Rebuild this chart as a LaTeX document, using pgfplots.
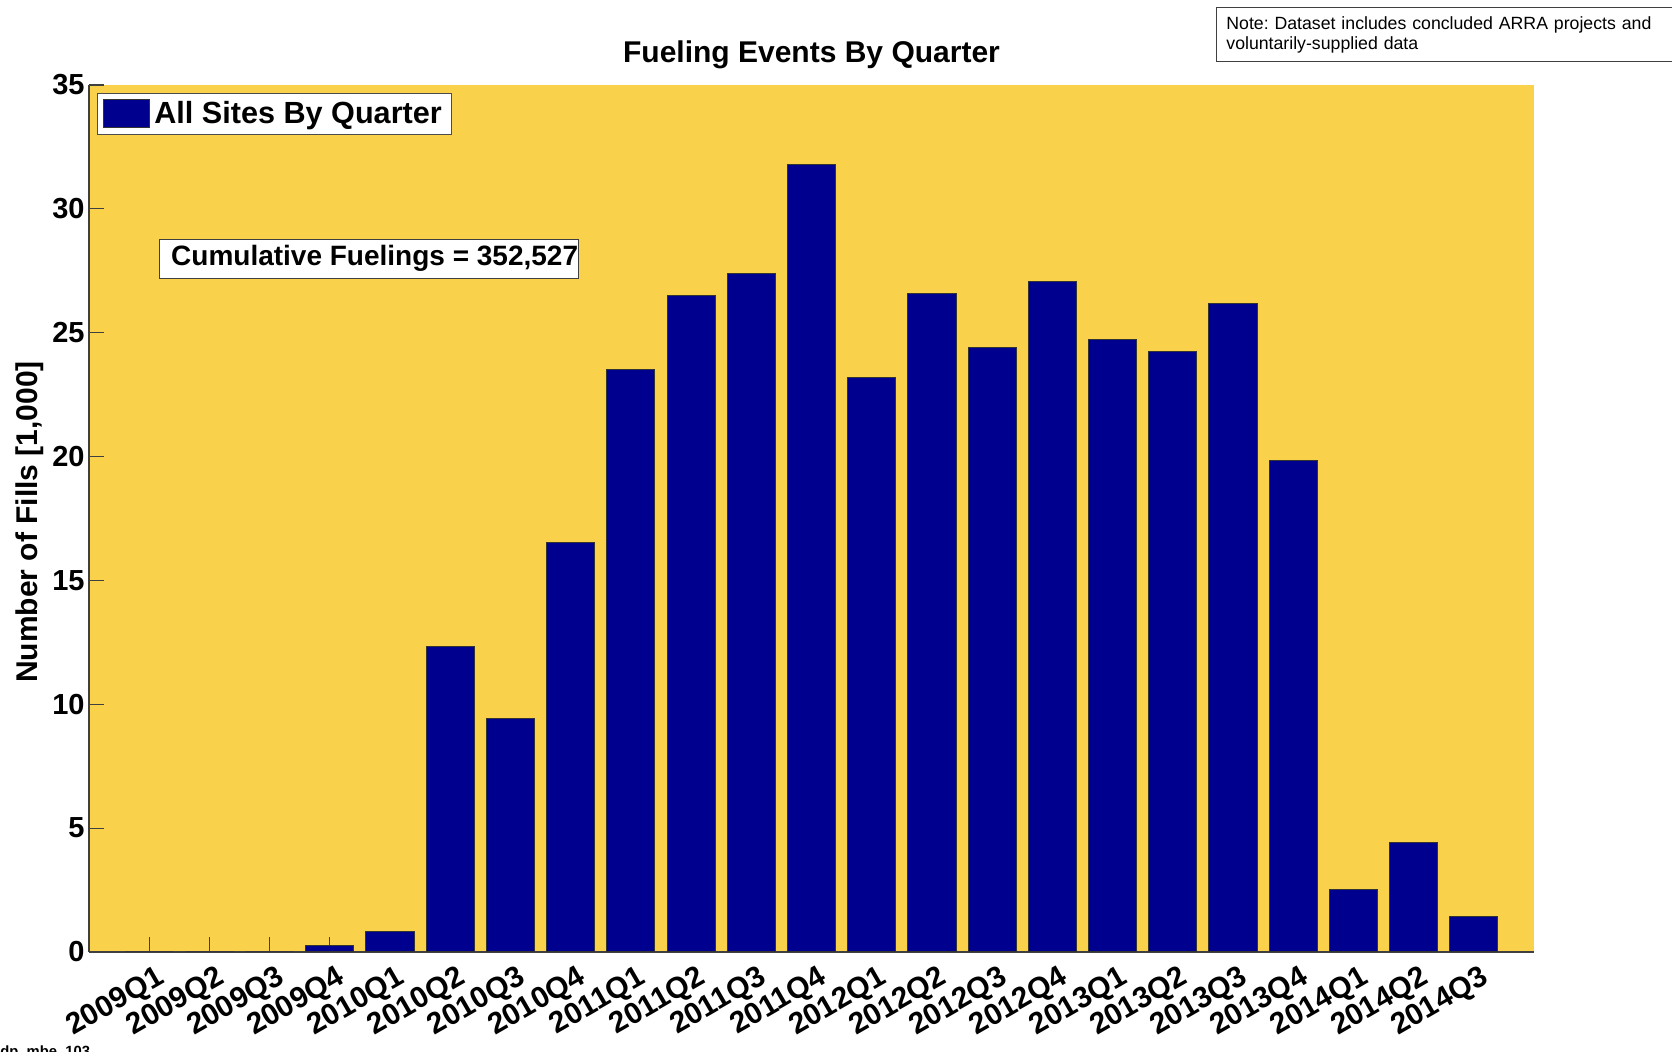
\documentclass[border=0pt]{standalone}
\usepackage{fontspec}
\setmainfont{Liberation Sans}
\usepackage{pgfplots}
\usepackage{pgfplotstable}
\pgfplotsset{compat=1.18}
\definecolor{bgyellow}{RGB}{250,209,74}
\definecolor{barblue}{RGB}{0,0,143}
\pgfplotstableread{
x y
1 0
2 0
3 0
4 0.26
5 0.82
6 12.35
7 9.43
8 16.53
9 23.50
10 26.52
11 27.38
12 31.77
13 23.20
14 26.60
15 24.40
16 27.08
17 24.71
18 24.24
19 26.17
20 19.85
21 2.54
22 4.43
23 1.42
}\fueling
\begin{document}
\frenchspacing
\begin{tikzpicture}
\path[use as bounding box] (0,0) rectangle (836pt,526pt);
\begin{axis}[
  at={(44.5pt,50pt)}, anchor=south west,
  scale only axis, width=722.5pt, height=433.5pt,
  xmin=0, xmax=24, ymin=0, ymax=35,
  ybar, bar width=0.8,
  axis x line*=bottom, axis y line*=left,
  axis line style={draw=black!75, line width=0.6pt, -},
  axis background/.style={fill=bgyellow},
  tick align=inside, major tick length=7.5pt,
  tick style={draw=black!75, line width=0.6pt},
  xtick={1,...,23},
  xticklabels={2009Q1,2009Q2,2009Q3,2009Q4,2010Q1,2010Q2,2010Q3,2010Q4,2011Q1,2011Q2,2011Q3,2011Q4,2012Q1,2012Q2,2012Q3,2012Q4,2013Q1,2013Q2,2013Q3,2013Q4,2014Q1,2014Q2,2014Q3},
  ytick={0,5,...,35},
  /pgf/number format/assume math mode=true,
  tick label style={font=\bfseries\fontsize{14.5}{17}\selectfont, text=black},
  xticklabel style={rotate=30, anchor=north east, inner sep=0pt, xshift=-0.4pt, yshift=-6.7pt, font=\bfseries\fontsize{14.9}{17}\selectfont},
  yticklabel style={inner xsep=2pt, anchor=east},
  title={Fueling Events By Quarter},
  title style={at={(0.5,1)}, anchor=base, yshift=5.1pt, font=\bfseries\fontsize{15}{18}\selectfont},
  legend style={at={(0,1)}, anchor=north west, xshift=4pt, yshift=-4pt, draw=black!70, fill=white,
    font=\bfseries\fontsize{15.3}{18}\selectfont, inner xsep=3pt, inner ysep=2pt},
  legend image code/.code={\draw[draw=black!80, fill=barblue] (0.5pt,-7pt) rectangle (23.5pt,7pt);},
]
\addplot[fill=barblue, draw=black!80, line width=0.5pt] table[x=x,y=y]{\fueling};
\addlegendentry{All Sites By Quarter}
\end{axis}
\node[rotate=90, anchor=base, font=\bfseries\fontsize{15}{18}\selectfont] at (19pt,265pt) {Number of Fills [1,000]};
\node[draw=black!75, fill=white, anchor=west, font=\bfseries\fontsize{14}{16}\selectfont, inner xsep=0pt, inner ysep=0pt, minimum height=19.5pt] at (79.5pt,396.75pt) {\hspace{5.9pt}Cumulative Fuelings = 352,527\hspace{1.8pt}};
\node[draw=black!75, fill=white, anchor=north west, align=left, text width=226pt, inner xsep=5pt, inner ysep=4.5pt, font=\fontsize{8.85}{10}\selectfont] at (608pt,522.5pt) {Note: Dataset includes concluded ARRA projects and\\voluntarily-supplied data};
\node[anchor=north west, inner sep=0pt, font=\bfseries\fontsize{7.4}{8}\selectfont] at (0pt,3.5pt) {dp\_mbe\_103};
\end{tikzpicture}
\end{document}
